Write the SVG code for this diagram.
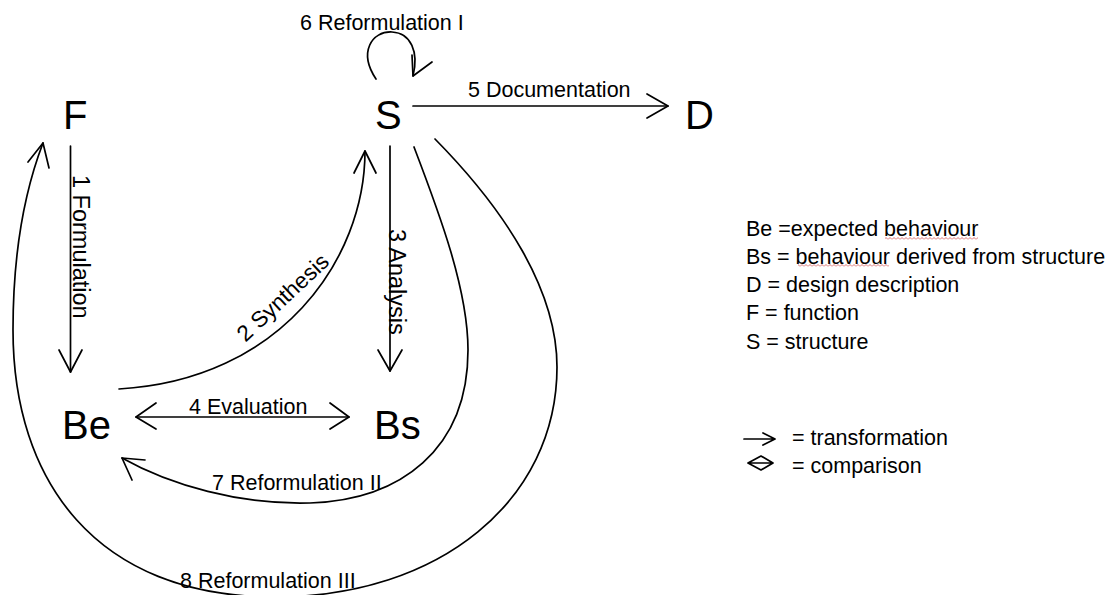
<svg xmlns="http://www.w3.org/2000/svg" width="1111" height="595" viewBox="0 0 1111 595">
<style>
.node{font-family:"Liberation Sans",Arial,sans-serif;font-size:40px;fill:#000}
.lbl{font-family:"Liberation Sans",Arial,sans-serif;font-size:21.5px;fill:#000}
.vl{font-size:23.5px}
.ln{fill:none;stroke:#000;stroke-width:1.7;stroke-linecap:round;stroke-linejoin:round}
</style>
<defs>
<pattern id="squig" width="4" height="3" patternUnits="userSpaceOnUse">
<path d="M0,2.5 L2,0.5 L4,2.5" fill="none" stroke="#d05050" stroke-width="0.8"/>
</pattern>
</defs>
<rect width="1111" height="595" fill="#fff"/>
<g id="connectors">
<g id="e1">
<path class="ln" d="M70.5,146 V372"/>
<path class="ln" d="M59,350 L70.5,372 L82,350"/>
<text class="lbl vl" transform="translate(73,175) rotate(90)">1 Formulation</text>
</g>
<g id="e2">
<path class="ln" d="M119,389 C280,380 365,260 365,151"/>
<path class="ln" d="M354,173 L365,151 L376,173"/>
<text class="lbl" style="font-size:22.5px" text-anchor="middle" transform="translate(288,303) rotate(-43)">2 Synthesis</text>
</g>
<g id="e3">
<path class="ln" d="M390,146 V371"/>
<path class="ln" d="M378,350 L390,371 L402,350"/>
<text class="lbl vl" transform="translate(389,229) rotate(90)">3 Analysis</text>
</g>
<g id="e4">
<path class="ln" d="M136,417 H349"/>
<path class="ln" d="M156,403 L136,417 L156,429"/>
<path class="ln" d="M330,403 L349,417 L330,429"/>
<text class="lbl" x="189" y="414">4 Evaluation</text>
</g>
<g id="e5">
<path class="ln" d="M413,106 H668"/>
<path class="ln" d="M647,94 L668,106 L647,118"/>
<text class="lbl" x="468" y="97">5 Documentation</text>
</g>
<g id="e6">
<path class="ln" d="M376,79 C358,52 372,31 392,32 C411,33 419,52 413,76"/>
<path class="ln" d="M412,55 L413,76 L432,62"/>
<text class="lbl" x="300" y="30">6 Reformulation I</text>
</g>
<g id="e7">
<path class="ln" d="M414,147 C440,215 468,290 468,350 C468,450 400,500 310,503 C240,505 170,485 122,458"/>
<path class="ln" d="M145,460 L122,458 L132,480"/>
<text class="lbl" x="212" y="490">7 Reformulation II</text>
</g>
<g id="e8">
<path class="ln" d="M435,139 C505,210 557,290 557,367 C557,500 440,597 275,597 C95,597 13,480 13,330 C13,250 25,190 43,143"/>
<path class="ln" d="M28,162 L43,143 L49,168"/>
<text class="lbl" x="180" y="588">8 Reformulation III</text>
</g>
</g>
<g id="node-F"><text class="node" x="63" y="129">F</text></g>
<g id="node-S"><text class="node" x="375" y="129">S</text></g>
<g id="node-D"><text class="node" x="685" y="129">D</text></g>
<g id="node-Be"><text class="node" x="62" y="439">Be</text></g>
<g id="node-Bs"><text class="node" x="374" y="439">Bs</text></g>
<g id="legend">
<text class="lbl" x="746" y="236">Be =expected behaviour</text>
<text class="lbl" x="746" y="264">Bs = behaviour derived from structure</text>
<text class="lbl" x="746" y="292">D = design description</text>
<text class="lbl" x="746" y="320">F = function</text>
<text class="lbl" x="746" y="349">S = structure</text>
<rect x="885" y="237" width="93" height="3" fill="url(#squig)"/>
<rect x="798" y="264" width="91" height="3" fill="url(#squig)"/>
<path class="ln" d="M744,439 H775 M763,433 L775,439 L763,445"/>
<path class="ln" d="M748,463 H773 M761,456 L748,463 L761,470 L773,463 Z"/>
<text class="lbl" x="792" y="445">= transformation</text>
<text class="lbl" x="792" y="473">= comparison</text>
</g>
</svg>
